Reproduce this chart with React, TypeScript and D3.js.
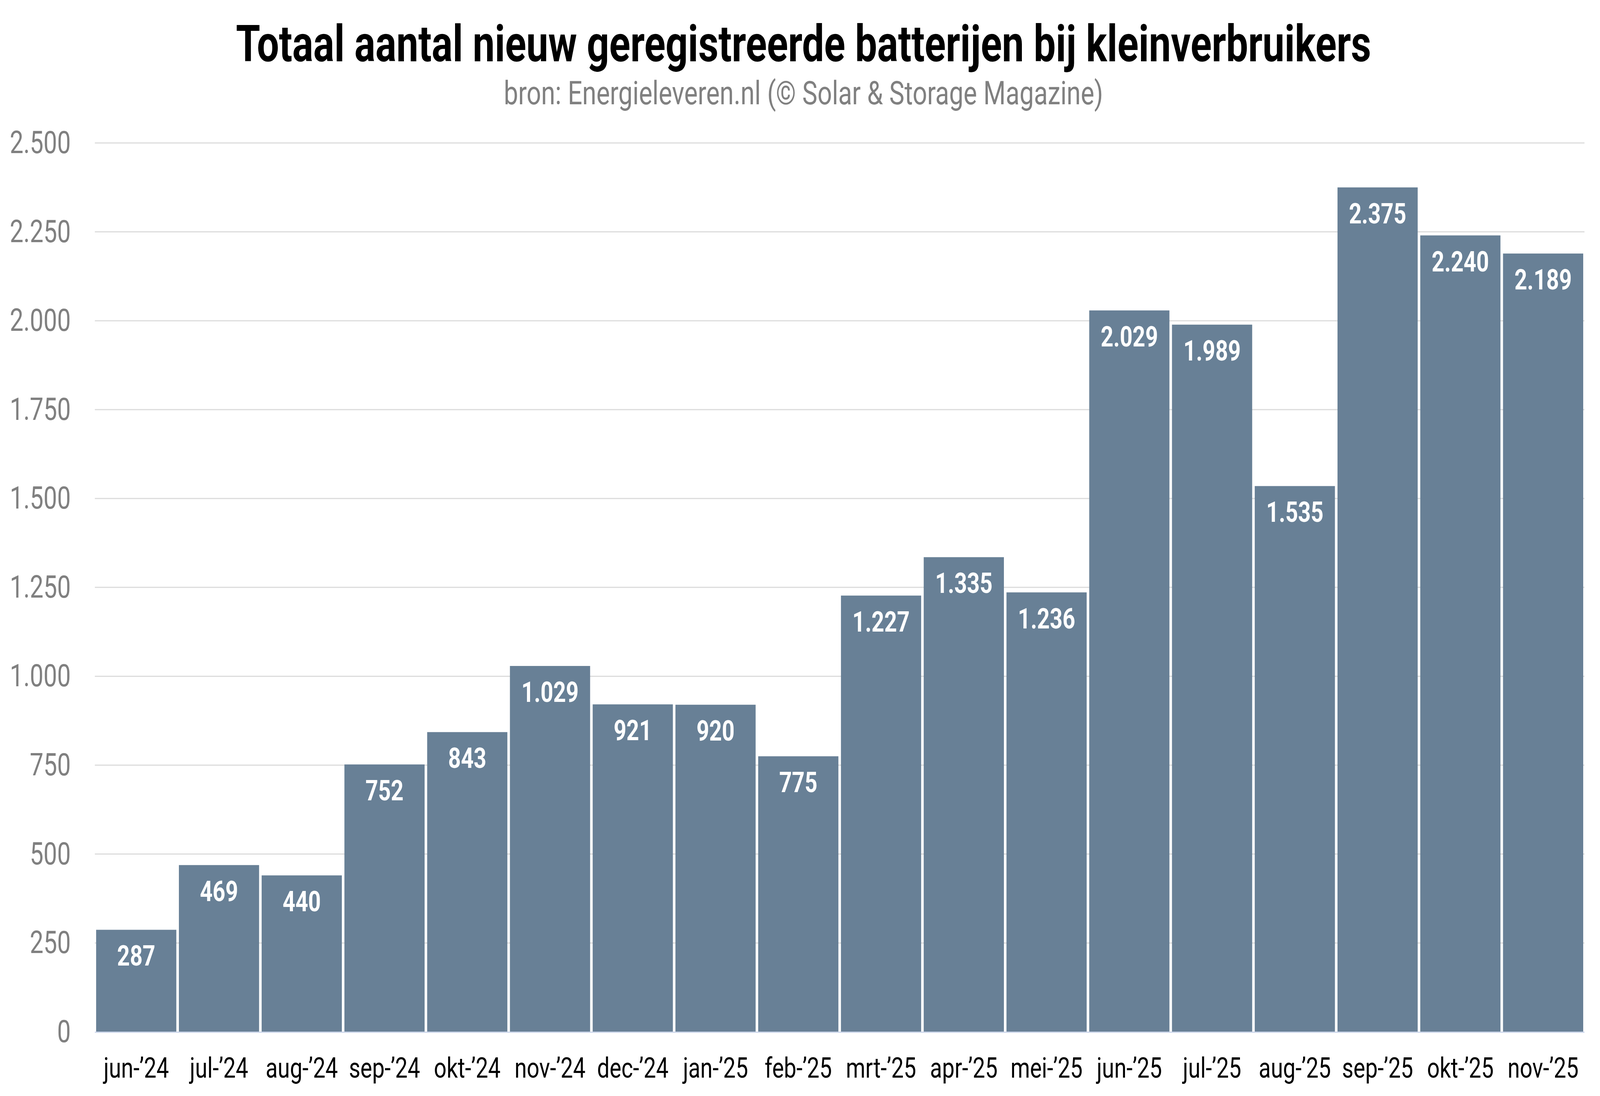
import React, { useEffect } from "react";
import * as d3 from "d3";

const categories = [
  "jun-’24", "jul-’24", "aug-’24", "sep-’24", "okt-’24", "nov-’24", "dec-’24",
  "jan-’25", "feb-’25", "mrt-’25", "apr-’25", "mei-’25", "jun-’25", "jul-’25",
  "aug-’25", "sep-’25", "okt-’25", "nov-’25",
];
const values = [287, 469, 440, 752, 843, 1029, 921, 920, 775, 1227, 1335, 1236, 2029, 1989, 1535, 2375, 2240, 2189];
const yTicks = [0, 250, 500, 750, 1000, 1250, 1500, 1750, 2000, 2250, 2500];
const title = "Totaal aantal nieuw geregistreerde batterijen bij kleinverbruikers";
const subtitle = "bron: Energieleveren.nl (© Solar & Storage Magazine)";

const W = 5263;
const H = 2806;
const left = 312;
const right = 5212;
const top = 366;
const bottom = 2641.7;

const fmt = (v: number) => String(v).replace(/\B(?=(\d{3})+(?!\d))/g, ".");

export default function App() {
  useEffect(() => {
    document.body.style.margin = "0";
  }, []);
  const x = d3.scaleBand<string>().domain(categories).range([left, right]).paddingInner(0.031).paddingOuter(0.0155);
  const y = d3.scaleLinear().domain([0, 2500]).range([bottom, top]);
  const font = "Roboto, 'Noto Sans', sans-serif";
  return (
    <svg
      viewBox={`0 0 ${W} ${H}`}
      preserveAspectRatio="none"
      style={{ position: "fixed", left: 0, top: 0, width: "100vw", height: "100vh", display: "block", background: "#fff" }}
      fontFamily={font}
    >
      <rect x={0} y={0} width={W} height={H} fill="#ffffff" />
      <text x={2643} y={156.7} textAnchor="middle" fontSize={129} fontWeight={700} fill="#000">{title}</text>
      <text x={2643} y={266.7} textAnchor="middle" fontSize={84} fill="#808080">{subtitle}</text>
      {yTicks.map((t) => (
        <g key={t}>
          {t > 0 && <line x1={left} x2={right} y1={y(t)} y2={y(t)} stroke="#dcdcdc" strokeWidth={3} />}
          <text x={233} y={y(t) + 26} textAnchor="end" fontSize={80} fill="#808080">{fmt(t)}</text>
        </g>
      ))}
      {categories.map((c, i) => (
        <g key={c}>
          <rect x={x(c)!} y={y(values[i])} width={x.bandwidth()} height={bottom - y(values[i])} fill="#688096" />
          <text x={x(c)! + x.bandwidth() / 2} y={y(values[i]) + 92} textAnchor="middle" fontSize={73} fontWeight={700} fill="#ffffff">{fmt(values[i])}</text>
          <text x={x(c)! + x.bandwidth() / 2} y={2759} textAnchor="middle" fontSize={73} fill="#000">{c}</text>
        </g>
      ))}
      <line x1={left} x2={right} y1={bottom + 1} y2={bottom + 1} stroke="#ccd6eb" strokeWidth={3} />
    </svg>
  );
}
